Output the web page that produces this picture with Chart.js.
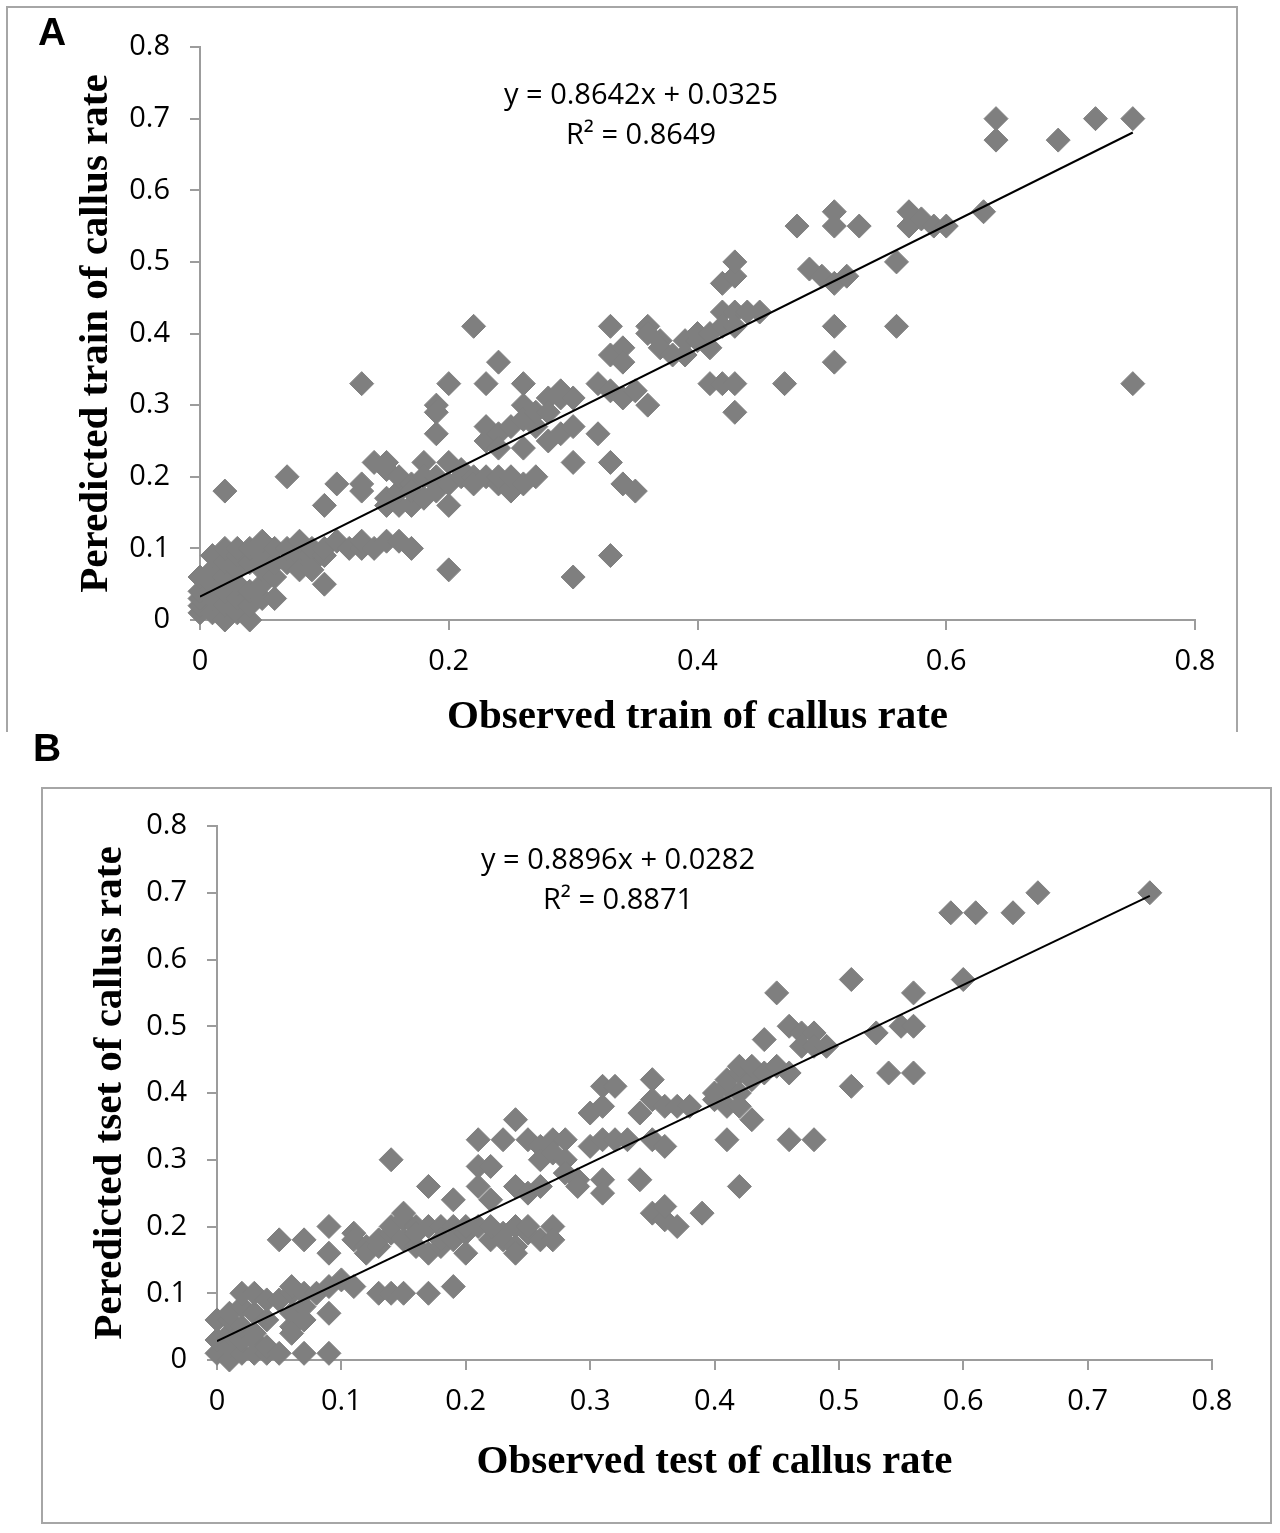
<!DOCTYPE html>
<html>
<head>
<meta charset="utf-8">
<script src="https://cdn.jsdelivr.net/npm/chart.js@4.4.1/dist/chart.umd.min.js"></script>
<style>
  body { margin: 0; background: #fff; width: 1280px; height: 1533px; position: relative; overflow: hidden; }
  .box { position: absolute; border: 2px solid #a6a6a6; box-sizing: border-box; }
  #boxA { left: 6px; top: 6px; width: 1232px; height: 726px; border-bottom: none; }
  #boxB { left: 41px; top: 787px; width: 1231px; height: 737px; }
  .tag { position: absolute; font: bold 39px "Liberation Sans", Arial, sans-serif; line-height: 39px; color: #000; }
  .eq { position: absolute; width: 400px; font: 29px "Open Sans", sans-serif; line-height: 40px; text-align: center; color: #000; white-space: nowrap; }
  canvas { position: absolute; left: 0; }
  #chartA { top: 0; }
  #chartB { top: 780px; }
</style>
</head>
<body>
<div class="box" id="boxA"></div>
<div class="box" id="boxB"></div>
<canvas id="chartA" width="1280" height="760"></canvas>
<canvas id="chartB" width="1280" height="753"></canvas>
<div class="tag" style="left:38px;top:12px">A</div>
<div class="tag" style="left:33px;top:728px">B</div>
<div class="eq" style="left:441px;top:73px">y = 0.8642x + 0.0325<br>R² = 0.8649</div>
<div class="eq" style="left:418px;top:838px">y = 0.8896x + 0.0282<br>R² = 0.8871</div>

<script>
  /* data
  # ------------------------------------------------------------------------------------------------
  */
  const trainObserved = [
    0, 0, 0, 0, 0, 0.01, 0.01, 0.01, 0.01, 0.01,
    0.02, 0.02, 0.02, 0.02, 0.02, 0.02, 0.02, 0.03, 0.03, 0.03,
    0.03, 0.03, 0.03, 0.04, 0.04, 0.04, 0.04, 0.04, 0.05, 0.05,
    0.05, 0.05, 0.05, 0.06, 0.06, 0.06, 0.06, 0.07, 0.07, 0.07,
    0.08, 0.08, 0.08, 0.09, 0.09, 0.09, 0.10, 0.10, 0.10, 0.10,
    0.11, 0.11, 0.12, 0.13, 0.13, 0.13, 0.13, 0.13, 0.14, 0.14,
    0.15, 0.15, 0.15, 0.15, 0.15, 0.16, 0.16, 0.16, 0.16, 0.17,
    0.17, 0.17, 0.17, 0.18, 0.18, 0.18, 0.19, 0.19, 0.19, 0.19,
    0.19, 0.19, 0.20, 0.20, 0.20, 0.20, 0.20, 0.21, 0.21, 0.22,
    0.22, 0.22, 0.23, 0.23, 0.23, 0.23, 0.24, 0.24, 0.24, 0.24,
    0.24, 0.25, 0.25, 0.25, 0.26, 0.26, 0.26, 0.26, 0.26, 0.27,
    0.27, 0.27, 0.28, 0.28, 0.28, 0.29, 0.29, 0.29, 0.30, 0.30,
    0.30, 0.30, 0.32, 0.32, 0.33, 0.33, 0.33, 0.33, 0.33, 0.34,
    0.34, 0.34, 0.34, 0.35, 0.35, 0.36, 0.36, 0.36, 0.37, 0.37,
    0.38, 0.39, 0.39, 0.40, 0.40, 0.41, 0.41, 0.41, 0.42, 0.42,
    0.42, 0.42, 0.43, 0.43, 0.43, 0.43, 0.43, 0.43, 0.44, 0.45,
    0.47, 0.48, 0.49, 0.50, 0.51, 0.51, 0.51, 0.51, 0.51, 0.52,
    0.53, 0.56, 0.56, 0.57, 0.57, 0.58, 0.59, 0.60, 0.63, 0.64,
    0.64, 0.69, 0.72, 0.75, 0.75
  ];
  const trainPredicted = [
    0.01, 0.02, 0.03, 0.04, 0.06, 0.01, 0.03, 0.05, 0.07, 0.09,
    0.00, 0.02, 0.04, 0.06, 0.08, 0.10, 0.18, 0.01, 0.03, 0.05,
    0.07, 0.09, 0.10, 0.00, 0.02, 0.04, 0.08, 0.10, 0.03, 0.05,
    0.07, 0.09, 0.11, 0.03, 0.06, 0.08, 0.10, 0.08, 0.20, 0.10,
    0.09, 0.11, 0.07, 0.08, 0.10, 0.07, 0.05, 0.09, 0.10, 0.16,
    0.19, 0.11, 0.10, 0.10, 0.11, 0.33, 0.19, 0.18, 0.10, 0.22,
    0.11, 0.22, 0.21, 0.17, 0.16, 0.11, 0.16, 0.18, 0.20, 0.10,
    0.16, 0.19, 0.18, 0.22, 0.20, 0.17, 0.30, 0.29, 0.26, 0.20,
    0.19, 0.18, 0.33, 0.22, 0.16, 0.07, 0.19, 0.20, 0.21, 0.41,
    0.20, 0.19, 0.33, 0.27, 0.25, 0.20, 0.36, 0.26, 0.24, 0.19,
    0.20, 0.18, 0.20, 0.27, 0.33, 0.30, 0.28, 0.24, 0.19, 0.27,
    0.20, 0.29, 0.31, 0.29, 0.25, 0.32, 0.26, 0.31, 0.31, 0.27,
    0.22, 0.06, 0.33, 0.26, 0.41, 0.37, 0.32, 0.22, 0.09, 0.38,
    0.36, 0.31, 0.19, 0.32, 0.18, 0.41, 0.40, 0.30, 0.39, 0.38,
    0.37, 0.37, 0.39, 0.39, 0.40, 0.38, 0.40, 0.33, 0.43, 0.47,
    0.33, 0.41, 0.43, 0.48, 0.50, 0.41, 0.33, 0.29, 0.43, 0.43,
    0.33, 0.55, 0.49, 0.48, 0.57, 0.55, 0.47, 0.41, 0.36, 0.48,
    0.55, 0.50, 0.41, 0.57, 0.55, 0.56, 0.55, 0.55, 0.57, 0.70,
    0.67, 0.67, 0.70, 0.70, 0.33
  ];

  const testObserved = [
    0, 0, 0, 0.01, 0.01, 0.01, 0.01, 0.01, 0.02, 0.02,
    0.02, 0.02, 0.02, 0.03, 0.03, 0.03, 0.03, 0.03, 0.04, 0.04,
    0.04, 0.04, 0.05, 0.05, 0.05, 0.06, 0.06, 0.06, 0.06, 0.06,
    0.07, 0.07, 0.07, 0.07, 0.07, 0.08, 0.09, 0.09, 0.09, 0.09,
    0.09, 0.10, 0.11, 0.11, 0.11, 0.12, 0.12, 0.13, 0.13, 0.13,
    0.14, 0.14, 0.14, 0.14, 0.15, 0.15, 0.15, 0.15, 0.16, 0.16,
    0.16, 0.17, 0.17, 0.17, 0.17, 0.18, 0.18, 0.18, 0.19, 0.19,
    0.19, 0.19, 0.20, 0.20, 0.20, 0.21, 0.21, 0.21, 0.21, 0.22,
    0.22, 0.22, 0.22, 0.23, 0.23, 0.23, 0.24, 0.24, 0.24, 0.24,
    0.24, 0.25, 0.25, 0.25, 0.25, 0.26, 0.26, 0.26, 0.26, 0.27,
    0.27, 0.27, 0.27, 0.28, 0.28, 0.28, 0.29, 0.29, 0.30, 0.30,
    0.31, 0.31, 0.31, 0.31, 0.31, 0.32, 0.32, 0.33, 0.34, 0.34,
    0.35, 0.35, 0.35, 0.35, 0.36, 0.36, 0.36, 0.36, 0.37, 0.37,
    0.38, 0.39, 0.40, 0.40, 0.41, 0.41, 0.41, 0.41, 0.42, 0.42,
    0.42, 0.42, 0.42, 0.43, 0.43, 0.43, 0.44, 0.44, 0.45, 0.45,
    0.46, 0.46, 0.46, 0.47, 0.47, 0.48, 0.48, 0.48, 0.49, 0.51,
    0.51, 0.53, 0.54, 0.55, 0.56, 0.56, 0.56, 0.59, 0.60, 0.61,
    0.64, 0.66, 0.75
  ];
  const testPredicted = [
    0.01, 0.03, 0.06, 0.00, 0.02, 0.04, 0.06, 0.07, 0.01, 0.03,
    0.05, 0.08, 0.10, 0.01, 0.03, 0.04, 0.07, 0.10, 0.01, 0.02,
    0.06, 0.09, 0.01, 0.09, 0.18, 0.05, 0.07, 0.10, 0.11, 0.04,
    0.08, 0.10, 0.06, 0.18, 0.01, 0.10, 0.11, 0.20, 0.16, 0.07,
    0.01, 0.12, 0.11, 0.19, 0.18, 0.17, 0.16, 0.10, 0.17, 0.18,
    0.10, 0.30, 0.19, 0.20, 0.10, 0.21, 0.22, 0.18, 0.17, 0.20,
    0.19, 0.10, 0.26, 0.20, 0.16, 0.17, 0.20, 0.18, 0.11, 0.24,
    0.20, 0.18, 0.19, 0.16, 0.20, 0.33, 0.29, 0.26, 0.20, 0.29,
    0.24, 0.18, 0.20, 0.33, 0.19, 0.18, 0.36, 0.26, 0.20, 0.17,
    0.16, 0.33, 0.25, 0.19, 0.20, 0.32, 0.30, 0.26, 0.18, 0.33,
    0.31, 0.20, 0.18, 0.33, 0.30, 0.28, 0.27, 0.26, 0.37, 0.32,
    0.41, 0.38, 0.33, 0.27, 0.25, 0.41, 0.33, 0.33, 0.37, 0.27,
    0.42, 0.39, 0.33, 0.22, 0.38, 0.32, 0.21, 0.23, 0.38, 0.20,
    0.38, 0.22, 0.39, 0.40, 0.41, 0.42, 0.33, 0.38, 0.43, 0.40,
    0.44, 0.26, 0.38, 0.42, 0.36, 0.44, 0.43, 0.48, 0.55, 0.44,
    0.50, 0.43, 0.33, 0.49, 0.47, 0.49, 0.47, 0.33, 0.47, 0.57,
    0.41, 0.49, 0.43, 0.50, 0.55, 0.50, 0.43, 0.67, 0.57, 0.67,
    0.67, 0.70, 0.70
  ];

  // fitted lines printed on the figure
  const trainSlope = 0.8642, trainIntercept = 0.0325;
  const testSlope = 0.8896, testIntercept = 0.0282;

  const xTicksTrain = [0, 0.2, 0.4, 0.6, 0.8];
  const xTicksTest = [0, 0.1, 0.2, 0.3, 0.4, 0.5, 0.6, 0.7, 0.8];
  const yTicks = [0, 0.1, 0.2, 0.3, 0.4, 0.5, 0.6, 0.7, 0.8];

  /* chart builder
  # ------------------------------------------------------------------------------------------------
  */
  const AXIS_GREY = '#9c9c9c';
  const MARK_GREY = '#7f7f7f';
  const tickFont = { family: 'Open Sans', size: 29 };
  const titleFont = { family: 'Liberation Serif', size: 41, weight: 'bold' };

  function buildChart(canvasId, obs, pred, slope, intercept, xTicks, look) {
    const points = obs.map((x, i) => ({ x: x, y: pred[i] }));
    const xMax = Math.max(...obs);
    const trend = [
      { x: 0, y: intercept },
      { x: xMax, y: slope * xMax + intercept }
    ];

    return new Chart(document.getElementById(canvasId), {
      type: 'scatter',
      data: {
        datasets: [
          {
            type: 'line',
            data: trend,
            borderColor: '#000',
            borderWidth: 2,
            pointRadius: 0,
            fill: false
          },
          {
            data: points,
            clip: false,
            pointStyle: 'rectRot',
            pointRadius: 12,
            pointBackgroundColor: MARK_GREY,
            pointBorderColor: MARK_GREY,
            pointBorderWidth: 1
          }
        ]
      },
      options: {
        responsive: false,
        animation: false,
        events: [],
        layout: { padding: look.padding },
        plugins: { legend: { display: false }, tooltip: { enabled: false } },
        scales: {
          x: {
            type: 'linear',
            min: 0,
            max: 0.8,
            afterBuildTicks: s => { s.ticks = xTicks.map(v => ({ value: v })); },
            afterFit: s => { s.height = look.xHeight; },
            ticks: {
              color: '#000',
              font: tickFont,
              padding: 14,
              maxRotation: 0,
              callback: v => String(+v.toFixed(1))
            },
            grid: { drawOnChartArea: false, drawTicks: true, tickLength: 10, color: AXIS_GREY, lineWidth: 2 },
            border: { color: AXIS_GREY, width: 2 },
            title: {
              display: true,
              text: look.xTitle,
              color: '#000',
              font: titleFont,
              padding: { top: 0, bottom: look.xTitlePad }
            }
          },
          y: {
            type: 'linear',
            min: 0,
            max: 0.8,
            afterBuildTicks: s => { s.ticks = yTicks.map(v => ({ value: v })); },
            afterFit: s => { s.width = look.yWidth; },
            ticks: {
              color: '#000',
              font: tickFont,
              padding: 20,
              callback: v => String(+v.toFixed(1))
            },
            grid: { drawOnChartArea: false, drawTicks: true, tickLength: 10, color: AXIS_GREY, lineWidth: 2 },
            border: { color: AXIS_GREY, width: 2 },
            title: {
              display: true,
              text: look.yTitle,
              color: '#000',
              font: titleFont,
              padding: { top: look.yTitlePad, bottom: 0 }
            }
          }
        }
      }
    });
  }

  /* panels
  # ------------------------------------------------------------------------------------------------
  */
  buildChart('chartA', trainObserved, trainPredicted, trainSlope, trainIntercept, xTicksTrain, {
    padding: { left: 0, right: 85, top: 47, bottom: 0 },
    yWidth: 200,
    xHeight: 140,
    xTitle: 'Observed train of callus rate',
    yTitle: 'Peredicted train of callus rate',
    xTitlePad: 18,
    yTitlePad: 72
  });

  buildChart('chartB', testObserved, testPredicted, testSlope, testIntercept, xTicksTest, {
    padding: { left: 0, right: 68, top: 46, bottom: 0 },
    yWidth: 217,
    xHeight: 173,
    xTitle: 'Observed test of callus rate',
    yTitle: 'Peredicted tset of callus rate',
    xTitlePad: 46,
    yTitlePad: 86
  });
</script>
</body>
</html>
